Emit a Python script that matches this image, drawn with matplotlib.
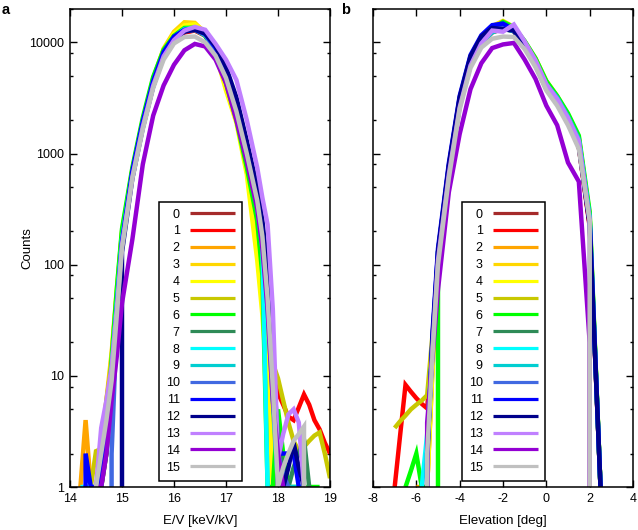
import numpy as np
import matplotlib
matplotlib.use("Agg")
import matplotlib.pyplot as plt
from matplotlib.ticker import FixedLocator, NullFormatter

n = np.nan

series_labels = [str(i) for i in range(16)]
series_colors = ["#a52a2a", "#ff0000", "#ffa500", "#ffd700", "#ffff00", "#c8c800",
                 "#00ff00", "#2e8b57", "#00ffff", "#00ced1", "#4169e1", "#0000ff",
                 "#00008b", "#c080ff", "#9400d3", "#c0c0c0"]

# ---------------- panel a: E/V ----------------
ev_bins = [14.2, 14.3, 14.4, 14.5, 14.6, 14.7, 14.8, 14.9, 15.0,
           15.2, 15.4, 15.6, 15.8, 16.0, 16.2, 16.4, 16.6, 16.8, 17.0, 17.2, 17.4, 17.6,
           17.7, 17.8, 17.9, 18.0, 18.1, 18.2, 18.3, 18.4, 18.5, 18.6, 18.7, 18.8, 18.9, 19.0]

ev_counts_0 = [n, n, n, n, 1, 2, 8, 35, 150, 650, 1800, 4200, 7600, 10600, 12400, 12900, 11600, 8300, 5000, 2400, 950, 330,
               200, 55, 10, 1, n, n, n, n, n, n, n, n, n, n]
ev_counts_1 = [n, n, n, 1, 1, 3, 9, 38, 150, 640, 1780, 4150, 7500, 10500, 12300, 12800, 11500, 8300, 5000, 2400, 950, 340,
               210, 60, 14, 7, 5.5, 4.3, 4, 5.2, 6.8, 5.5, 4, 3.3, 2.5, 2]
ev_counts_2 = [1, 4, 1, 1, 2, 5, 15, 55, 190, 720, 2000, 4700, 8500, 12000, 14800, 14500, 12000, 8300, 4500, 2100, 750, 180,
               70, 15, 3, 1, n, n, n, n, n, n, n, n, n, n]
ev_counts_3 = [n, n, n, 1, 2, 6, 16, 60, 200, 700, 2000, 4700, 8800, 12500, 15200, 15000, 12200, 8000, 4000, 2000, 700, 150,
               60, 15, 3, 1, n, n, n, n, n, n, n, n, n, n]
ev_counts_4 = [n, n, n, n, 1, 4, 14, 55, 190, 700, 1950, 4600, 8400, 12000, 14200, 14600, 12500, 8000, 3700, 1900, 650, 110,
               35, 8, 1, n, n, n, n, n, n, n, n, n, n, n]
ev_counts_5 = [n, n, 1, 2.1, 2.2, 6, 13, 45, 170, 680, 1900, 4400, 7900, 11000, 13000, 13200, 11800, 8400, 5000, 2400, 950, 320,
               150, 45, 13, 9.5, 6, 3.8, 2.6, 2.1, 2.3, 2.6, 2.9, 3.1, 2, 1.2]
ev_counts_6 = [n, n, n, n, 1, 3, 14, 60, 210, 750, 2100, 4900, 8600, 11500, 13500, 13600, 11500, 7800, 4300, 2000, 750, 250,
               80, 1, 1, 5, 2, 1, 1, 1, 1, 1, 1, 1, n, n]
ev_counts_7 = [n, n, n, n, 1, 2, 9, 38, 155, 660, 1850, 4300, 7800, 10800, 12700, 13000, 11600, 8400, 5100, 2500, 1000, 340,
               160, 45, 12, 3, 1.5, 1, 1.5, 2, 2.7, 1, n, n, n, n]
ev_counts_8 = [1, 1, 1, 1, 1.5, 4, 11, 45, 170, 680, 1900, 4400, 8000, 11200, 13200, 13400, 11800, 8500, 5100, 2500, 1000, 330,
               140, 1, n, n, n, n, n, n, n, n, n, n, n, n]
ev_counts_9 = [n, n, n, n, 1, 3, 10, 42, 165, 660, 1850, 4300, 7800, 10900, 12800, 13000, 11600, 8600, 5300, 2600, 1050, 350,
               150, 40, 6, 1, 1, 1, 1, 1, 1, n, n, n, n, n]
ev_counts_10 = [n, n, n, n, n, 0, 2, 30, 150, 650, 1800, 4250, 7700, 10800, 12600, 13000, 11800, 8700, 5400, 2700, 1100, 380,
                170, 45, 8, 2, 1.3, 1, n, n, n, n, n, n, n, n]
ev_counts_11 = [0, 2, 1, 1, 1.3, 2.6, 10, 40, 160, 700, 1950, 4500, 8200, 11300, 13000, 13300, 12000, 9000, 5700, 3000, 1200, 420,
                200, 60, 15, 2, 2, 2, 2, 1, n, n, n, n, n, n]
ev_counts_12 = [n, n, n, n, n, n, n, 0, 130, 600, 1700, 4000, 7500, 10500, 12500, 13000, 12000, 9300, 6000, 3200, 1300, 500,
                250, 90, 20, 1, 1, 1.5, 2.5, 1.5, 1, n, n, n, n, n]
ev_counts_13 = [n, n, n, 1, 3.4, 6, 12, 40, 150, 620, 1750, 4100, 7500, 10500, 12800, 13800, 13000, 9700, 7000, 4600, 2000, 750,
                400, 230, 40, 1.8, 3, 4.5, 5, 3.8, 1, n, n, n, n, n]
ev_counts_14 = [n, n, n, 1, 1, 2, 6, 15, 45, 170, 800, 2200, 4100, 6300, 8500, 9700, 9200, 7000, 4300, 2000, 850, 320,
                140, 40, 6, 2, 1, n, n, n, n, n, n, n, n, n]
ev_counts_15 = [n, n, n, 1, 2, 4, 9, 35, 140, 600, 1650, 3900, 7000, 9800, 11200, 11300, 10000, 7600, 4800, 2400, 1000, 380,
                180, 50, 8, 1, 1.5, 2, 2.6, 3, 3.5, 0, n, n, n, n]

ev_counts = [ev_counts_0, ev_counts_1, ev_counts_2, ev_counts_3, ev_counts_4, ev_counts_5,
             ev_counts_6, ev_counts_7, ev_counts_8, ev_counts_9, ev_counts_10, ev_counts_11,
             ev_counts_12, ev_counts_13, ev_counts_14, ev_counts_15]

# ---------------- panel b: Elevation ----------------
el_bins = [-7.0, -6.75, -6.5, -6.25, -6.0, -5.75, -5.5, -5.25, -5.0,
           -4.5, -4.0, -3.5, -3.0, -2.5, -2.0, -1.5, -1.0, -0.5, 0.0, 0.5, 1.0, 1.5, 2.0, 2.5]

el_counts_0 = [n, n, n, n, n, n, 2, 18, 110, 680, 2700, 6300, 9800, 12300, 13300, 12600, 9400, 6300, 3900, 2900, 1900, 1150, 230, 1]
el_counts_1 = [1, 2.9, 8.3, 7.2, 6.3, 5.6, 5.1, 20, 110, 680, 2700, 6400, 10000, 12500, 13800, 12700, 9600, 6400, 3900, 2900, 1950, 1150, 220, 1]
el_counts_2 = [n, n, n, n, 1, 1, 1, 12, 100, 650, 2700, 6600, 10500, 13500, 15200, 13500, 10000, 7000, 4400, 3200, 2200, 1350, 260, 1]
el_counts_3 = [n, n, n, n, n, n, 1, 14, 110, 700, 2900, 6800, 10800, 14000, 15600, 13800, 10200, 7200, 4500, 3300, 2250, 1400, 280, 1]
el_counts_4 = [n, n, n, n, n, n, 1, 12, 105, 680, 2800, 6700, 10600, 13800, 15000, 13600, 10000, 7000, 4400, 3250, 2200, 1350, 270, 1]
el_counts_5 = [3.4, 3.9, 4.4, 5, 5.5, 6, 6.7, 24, 110, 680, 2750, 6600, 10300, 13000, 14200, 13000, 9800, 6800, 4200, 3100, 2100, 1300, 260, 1]
el_counts_6 = [n, n, 1, 1.4, 2, 1, 1, 0, 130, 750, 2900, 6800, 10500, 13200, 15300, 13700, 10300, 7200, 4500, 3300, 2300, 1450, 300, 1]
el_counts_7 = [n, n, n, n, n, n, 2, 18, 115, 690, 2750, 6400, 9900, 12400, 13600, 12600, 9500, 6500, 4000, 3000, 2000, 1250, 250, 1]
el_counts_8 = [n, n, n, n, n, 1, 3, 20, 120, 700, 2800, 6500, 10000, 12500, 13300, 12800, 9600, 6600, 4100, 3100, 2100, 1300, 260, 1]
el_counts_9 = [n, n, n, n, n, n, 2, 19, 118, 700, 2800, 6500, 10000, 12400, 13200, 12700, 9700, 6700, 4200, 3200, 2150, 1350, 270, 1]
el_counts_10 = [n, n, n, n, n, 0, 2, 22, 130, 760, 3100, 7200, 10900, 13300, 13800, 12700, 9500, 6500, 4000, 3000, 2000, 1250, 250, 1]
el_counts_11 = [n, n, n, n, n, 0, 1.6, 25, 140, 820, 3300, 7700, 11600, 14300, 14800, 13000, 9700, 6600, 4000, 3000, 2000, 1200, 240, 1]
el_counts_12 = [n, n, n, n, n, 0, 2, 22, 130, 780, 3200, 7500, 11300, 13500, 13200, 12800, 9300, 6200, 3800, 2800, 1900, 1150, 230, 1]
el_counts_13 = [n, n, n, n, n, 0, 2.5, 18, 110, 650, 2600, 6200, 9800, 12800, 12500, 14500, 10200, 6900, 4200, 3100, 2100, 1300, 250, 0]
el_counts_14 = [n, n, n, n, n, 0, 3.8, 15, 60, 450, 1500, 3800, 6500, 8900, 9600, 9900, 7000, 4700, 2700, 1800, 830, 560, 20, 0]
el_counts_15 = [n, n, n, n, n, 0, 2, 16, 100, 600, 2500, 5900, 9000, 10800, 11300, 11200, 8700, 6000, 3700, 2700, 1800, 1100, 250, 0]

el_counts = [el_counts_0, el_counts_1, el_counts_2, el_counts_3, el_counts_4, el_counts_5,
             el_counts_6, el_counts_7, el_counts_8, el_counts_9, el_counts_10, el_counts_11,
             el_counts_12, el_counts_13, el_counts_14, el_counts_15]

y_ticks = [1, 10, 100, 1000, 10000]
y_tick_labels = ["1", "10", "100", "1000", "10000"]
ev_ticks = [14, 15, 16, 17, 18, 19]
el_ticks = [-8, -6, -4, -2, 0, 2, 4]

# ---------------- drawing ----------------
plt.rcParams["font.family"] = ["Liberation Sans", "DejaVu Sans"]
plt.rcParams["font.size"] = 9

fig = plt.figure(figsize=(6.38, 5.30), dpi=100)
W, H = 638.0, 530.0
ax_a = fig.add_axes([70 / W, (530 - 487) / H, 260 / W, 478 / H])
ax_b = fig.add_axes([373 / W, (530 - 487) / H, 260 / W, 478 / H])

minor_vals = []
for d in [1, 10, 100, 1000, 10000]:
    for m in [2, 5, 8]:
        minor_vals.append(d * m)


def style_axes(ax, xticks, show_ylabels):
    ax.set_yscale("log")
    ax.set_ylim(1, 20000)
    ax.set_xlim(xticks[0], xticks[-1])
    ax.set_xticks(xticks)
    ax.set_xticklabels([str(t) for t in xticks])
    ax.yaxis.set_major_locator(FixedLocator(y_ticks))
    ax.yaxis.set_minor_locator(FixedLocator(minor_vals))
    ax.yaxis.set_minor_formatter(NullFormatter())
    if show_ylabels:
        ax.set_yticklabels(y_tick_labels)
    else:
        ax.set_yticklabels([])
    ax.tick_params(which="both", direction="in", top=True, right=True, width=1.0, colors="black")
    ax.tick_params(which="major", length=5, pad=4.5, labelsize=9)
    ax.tick_params(which="minor", length=2.5)
    for s in ax.spines.values():
        s.set_linewidth(1.1)
        s.set_color("black")


def draw_panel(ax, xs, counts_list):
    handles = []
    for lab, col, ys in zip(series_labels, series_colors, counts_list):
        h, = ax.plot(xs, ys, color=col, lw=3.2, label=lab, solid_joinstyle="miter",
                     solid_capstyle="butt")
        handles.append(h)
    leg = ax.legend(loc="upper left", bbox_to_anchor=(0.342, 0.597), borderaxespad=0,
                    markerfirst=False, frameon=True, fancybox=False, framealpha=1,
                    edgecolor="black", fontsize=9, handlelength=3.6, handletextpad=0.8,
                    labelspacing=0.39, borderpad=0.55)
    leg.get_frame().set_linewidth(1.1)
    for line in leg.get_lines():
        line.set_linewidth(2.3)
    return leg


draw_panel(ax_a, ev_bins, ev_counts)
draw_panel(ax_b, el_bins, el_counts)
style_axes(ax_a, ev_ticks, True)
style_axes(ax_b, el_ticks, False)

ax_a.set_xlabel("E/V [keV/kV]", fontsize=9.5)
ax_b.set_xlabel("Elevation [deg]", fontsize=9.5)
ax_a.set_ylabel("Counts", fontsize=9.5)
ax_a.xaxis.set_label_coords(0.5, -0.058)
ax_b.xaxis.set_label_coords(0.5, -0.058)
ax_a.yaxis.set_label_coords(-0.14, 0.5)

fig.text(2 / W, 1 - 3 / H, "a", fontsize=10.5, fontweight="bold", ha="left", va="top")
fig.text(341 / W, 1 - 3 / H, "b", fontsize=10.5, fontweight="bold", ha="left", va="top")

fig.savefig("out.png", dpi=100)
